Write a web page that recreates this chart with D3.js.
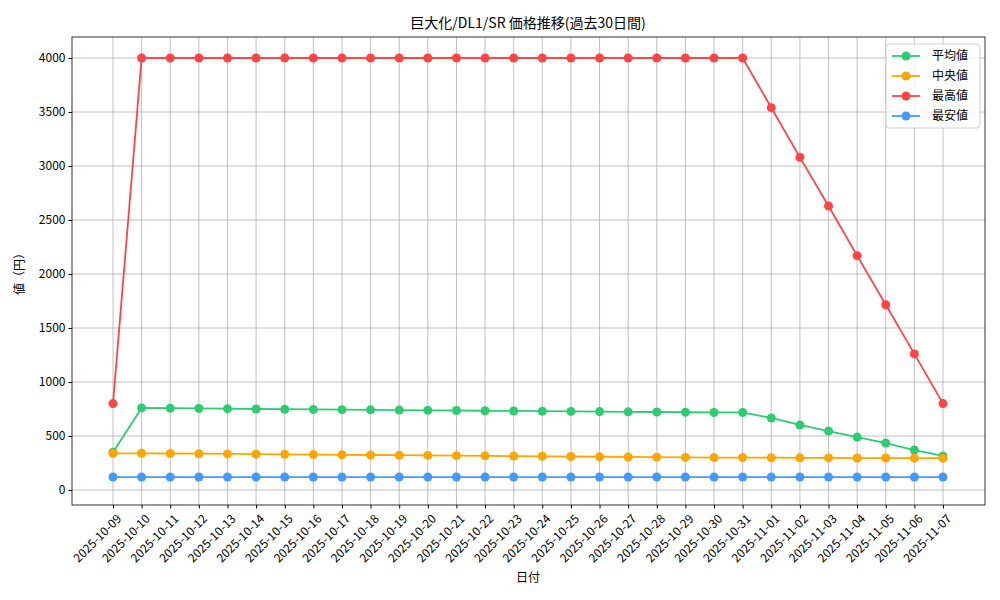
<!DOCTYPE html>
<html><head><meta charset="utf-8">
<script src="https://cdn.jsdelivr.net/npm/d3@7"></script>
<style>body{margin:0;background:#fff}text{font-family:"Noto Sans CJK JP",sans-serif}</style>
</head><body><svg id="c" width="1000" height="600"></svg>
<script>
const dates=["2025-10-09","2025-10-10","2025-10-11","2025-10-12","2025-10-13","2025-10-14","2025-10-15","2025-10-16","2025-10-17","2025-10-18","2025-10-19","2025-10-20","2025-10-21","2025-10-22","2025-10-23","2025-10-24","2025-10-25","2025-10-26","2025-10-27","2025-10-28","2025-10-29","2025-10-30","2025-10-31","2025-11-01","2025-11-02","2025-11-03","2025-11-04","2025-11-05","2025-11-06","2025-11-07"];
const avgVals=[350,760,758,755,753,750,748,746,744,742,740,738,736,734,732,730,728,726,724,722,720,718,718,667,602,546,490,435,370,315];
const medVals=[340,340,338,336,334,332,330,328,326,324,322,320,318,316,314,312,310,308,306,304,302,300,300,299,298,297,296,296,295,295];
const maxVals=[800,4000,4000,4000,4000,4000,4000,4000,4000,4000,4000,4000,4000,4000,4000,4000,4000,4000,4000,4000,4000,4000,4000,3540,3080,2630,2170,1715,1260,800];
const minVals=[120,120,120,120,120,120,120,120,120,120,120,120,120,120,120,120,120,120,120,120,120,120,120,120,120,120,120,120,120,120];
const yTicks=[0,500,1000,1500,2000,2500,3000,3500,4000];
const series=[{name:"平均値",vals:avgVals,color:"#2ecc71"},{name:"中央値",vals:medVals,color:"#ffa500"},{name:"最高値",vals:maxVals,color:"#ff4444"},{name:"最安値",vals:minVals,color:"#4499ff"}];
const L=72,R=985,T=37,B=505;
const svg=d3.select("#c");
const x=d3.scalePoint().domain(dates).range([113,943]);
const y=d3.scaleLinear().domain([0,4000]).range([490,58]);
const g=svg.append("g");
g.selectAll(".vg").data(dates).join("line").attr("x1",d=>x(d)).attr("x2",d=>x(d)).attr("y1",T).attr("y2",B).attr("stroke","#b0b0b0").attr("stroke-width",0.8);
g.selectAll(".hg").data(yTicks).join("line").attr("x1",L).attr("x2",R).attr("y1",d=>y(d)).attr("y2",d=>y(d)).attr("stroke","#b0b0b0").attr("stroke-width",0.8);
const xa=svg.append("g").attr("transform",`translate(0,${B})`).call(d3.axisBottom(x).tickSize(3.5).tickSizeOuter(0));
xa.select(".domain").remove();
xa.selectAll("text").attr("font-size",12).attr("fill","#000").attr("text-anchor","end").attr("dy",0).attr("transform",function(){return "translate(4,10) rotate(-45)";});
const ya=svg.append("g").attr("transform",`translate(${L},0)`).call(d3.axisLeft(y).tickValues(yTicks).tickFormat(d3.format("d")).tickSize(3.5).tickSizeOuter(0));
ya.select(".domain").remove();
ya.selectAll("text").attr("font-size",12).attr("fill","#000");
svg.append("rect").attr("x",L).attr("y",T).attr("width",R-L).attr("height",B-T).attr("fill","none").attr("stroke","#000").attr("stroke-width",0.8);
const line=d3.line().x((d,i)=>x(dates[i])).y(d=>y(d));
series.forEach(s=>{
 svg.append("path").attr("d",line(s.vals)).attr("fill","none").attr("stroke",s.color).attr("stroke-width",1.8);
 svg.append("g").selectAll("circle").data(s.vals).join("circle").attr("cx",(d,i)=>x(dates[i])).attr("cy",d=>y(d)).attr("r",4.5).attr("fill",s.color);
});
svg.append("text").attr("x",528).attr("y",28).attr("text-anchor","middle").attr("font-size",14).text("巨大化/DL1/SR 価格推移(過去30日間)");
svg.append("text").attr("x",528).attr("y",582).attr("text-anchor","middle").attr("font-size",12).text("日付");
svg.append("text").attr("transform","translate(24,271) rotate(-90)").attr("text-anchor","middle").attr("font-size",12).text("値（円）");
const lg=svg.append("g").attr("transform","translate(886,44)");
lg.append("rect").attr("width",94).attr("height",84).attr("rx",3).attr("fill","#fff").attr("fill-opacity",0.8).attr("stroke","#ccc");
series.forEach((s,i)=>{
 const yy=12+i*20;
 lg.append("line").attr("x1",6).attr("x2",34).attr("y1",yy).attr("y2",yy).attr("stroke",s.color).attr("stroke-width",1.8);
 lg.append("circle").attr("cx",20).attr("cy",yy).attr("r",4.5).attr("fill",s.color);
 lg.append("text").attr("x",46).attr("y",yy+4).attr("font-size",12).text(s.name);
});
</script></body></html>
